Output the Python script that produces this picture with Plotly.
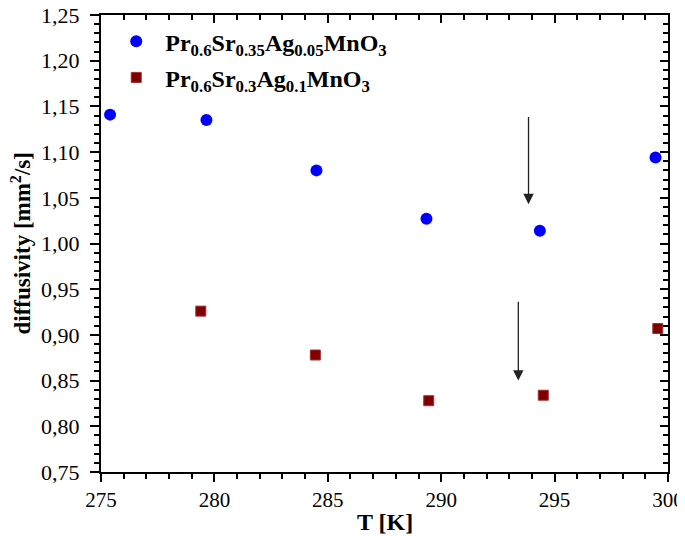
import plotly.graph_objects as go

# Data
T_a = [275.4, 279.65, 284.5, 289.35, 294.35, 299.45]
D_a = [1.141, 1.135, 1.080, 1.027, 1.014, 1.094]
T_b = [279.4, 284.45, 289.45, 294.5, 299.55]
D_b = [0.926, 0.878, 0.828, 0.834, 0.907]
name_a = "<b>Pr<sub>0.6</sub>Sr<sub>0.35</sub>Ag<sub>0.05</sub>MnO<sub>3</sub></b>"
name_b = "<b>Pr<sub>0.6</sub>Sr<sub>0.3</sub>Ag<sub>0.1</sub>MnO<sub>3</sub></b>"
x_title = "<b>T [K]</b>"
y_title = "<b>diffusivity [mm<sup>2</sup>/s]</b>"
# arrows: (x, y_start, y_end)
arrows = [(293.85, 1.140, 1.043), (293.4, 0.938, 0.850)]

x_range = [275, 300.0000001]
y_range = [0.7499999, 1.2500001]

FONT = "Liberation Serif, DejaVu Serif, serif"

fig = go.Figure()
fig.add_trace(go.Scatter(x=T_a, y=D_a, mode="markers", name=name_a,
                         legendgroup="a",
                         marker=dict(symbol="circle", size=12, color="#0000FF",
                                     line=dict(width=0))))
fig.add_trace(go.Scatter(x=T_b, y=D_b, mode="markers", name=name_b,
                         legendgroup="b",
                         marker=dict(symbol="square", size=10, color="#7F0000",
                                     line=dict(width=1, color="#A03030"))))
# invisible copy bound to the mirror axes so that they are drawn
fig.add_trace(go.Scatter(x=T_a, y=D_a, mode="markers", xaxis="x2", yaxis="y2",
                         showlegend=False, hoverinfo="skip",
                         marker=dict(opacity=0)))

for (ax_, y0, y1) in arrows:
    fig.add_annotation(x=ax_, y=y1, ax=ax_, ay=y0, xref="x", yref="y",
                       axref="x", ayref="y", showarrow=True, text="",
                       arrowhead=2, arrowsize=1.6, arrowwidth=1.3,
                       arrowcolor="#222222")

# axis titles as annotations (fixed positions)
fig.add_annotation(text=x_title, xref="paper", yref="paper", x=0.5, y=-0.11,
                   xanchor="center", yanchor="middle", showarrow=False,
                   font=dict(size=24, family=FONT))
fig.add_annotation(text=y_title, xref="paper", yref="paper", x=-0.141, y=0.5,
                   xanchor="center", yanchor="middle", showarrow=False,
                   textangle=-90, font=dict(size=23, family=FONT))

axis_common = dict(showline=True, linewidth=2, linecolor="black",
                   showgrid=False, zeroline=False, automargin=False)

fig.update_layout(
    width=677, height=533,
    margin=dict(l=93, r=17, t=7, b=69),
    paper_bgcolor="white", plot_bgcolor="white",
    separators=",.",
    font=dict(family=FONT, color="black", size=20),
    xaxis=dict(range=x_range, tickmode="linear", tick0=275, dtick=5,
               ticks="outside", ticklen=8, tickwidth=2, tickcolor="black",
               ticklabeloverflow="allow",
               tickfont=dict(size=21, family=FONT, color="black"),
               minor=dict(dtick=1, tick0=275, ticks="outside", ticklen=5,
                          tickwidth=1.5, tickcolor="black"),
               **axis_common),
    yaxis=dict(range=y_range, tickmode="linear", tick0=0.75, dtick=0.05,
               tickformat=".2f",
               ticks="outside", ticklen=9, tickwidth=2, tickcolor="black",
               ticklabelstandoff=6, ticklabeloverflow="allow",
               tickfont=dict(size=22, family=FONT, color="black"),
               minor=dict(dtick=0.01, tick0=0.75, ticks="outside", ticklen=5,
                          tickwidth=1.5, tickcolor="black"),
               **axis_common),
    xaxis2=dict(range=x_range, overlaying="x", side="top", tickmode="linear",
                tick0=275, dtick=5,
                ticks="inside", ticklen=8, tickwidth=2, tickcolor="black",
                showticklabels=False,
                minor=dict(dtick=1, tick0=275, ticks="inside", ticklen=5,
                           tickwidth=1.5, tickcolor="black"),
                **axis_common),
    yaxis2=dict(range=y_range, overlaying="y", side="right", tickmode="linear",
                tick0=0.75, dtick=0.05,
                ticks="inside", ticklen=8, tickwidth=2, tickcolor="black",
                showticklabels=False,
                minor=dict(dtick=0.01, tick0=0.75, ticks="inside", ticklen=5,
                           tickwidth=1.5, tickcolor="black"),
                **axis_common),
    legend=dict(x=0.011, y=0.991, xanchor="left", yanchor="top",
                bgcolor="rgba(0,0,0,0)", borderwidth=0,
                font=dict(size=24, family=FONT, color="black"),
                itemwidth=48, traceorder="grouped", tracegroupgap=2),
    showlegend=True,
)

fig.write_html("out.html")
